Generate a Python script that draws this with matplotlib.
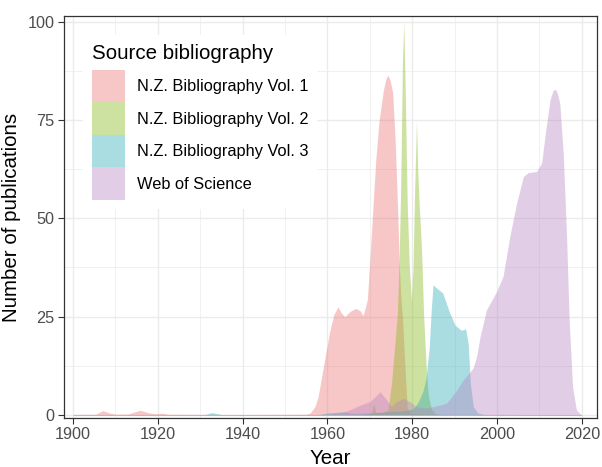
import matplotlib
matplotlib.use("Agg")
import matplotlib.pyplot as plt
from matplotlib.patches import Patch
from matplotlib.ticker import MultipleLocator

plt.rcParams['font.family'] = ['Liberation Sans', 'DejaVu Sans']

# densities (year, number of publications)
vol1_years = [1900, 1905.4, 1907, 1908.6, 1910.1, 1913, 1915.8, 1918, 1919.5, 1920.9, 1922.5,
              1940, 1955, 1955.9, 1957, 1957.8, 1959, 1960, 1960.5, 1961.5, 1962.5, 1963.2,
              1964.1, 1965.3, 1966.7, 1967.7, 1968.4, 1969.4, 1970.0, 1970.7, 1971.4, 1972.2,
              1973.2, 1973.8, 1974.3, 1974.8, 1975.4, 1976.0, 1976.55, 1976.9, 1977.3, 1977.7,
              1978.1, 1978.5, 1978.8, 1979.5, 1985, 2020]
vol1_counts = [0.15, 0.2, 1.1, 0.5, 0.2, 0.25, 1.2, 0.5, 0.3, 0.45, 0.2,
               0.15, 0.2, 0.5, 2.0, 4.6, 12, 18, 21, 25.5, 27.5, 26,
               25, 26.3, 27.1, 26.5, 25.2, 29.2, 39.4, 52.1, 64.8, 75,
               82.6, 85.5, 86.4, 85, 81.8, 69.1, 52.1, 39.4, 30, 24.9,
               16, 8, 2, 0.4, 0.15, 0.1]

vol2_years = [1900, 1969, 1970.4, 1970.9, 1971.4, 1973, 1974.3, 1975.1, 1975.9, 1976.5, 1976.9,
              1977.25, 1977.7, 1978.0, 1978.3, 1978.8, 1979.3, 1979.8, 1980.2, 1980.5, 1981.0,
              1981.3, 1981.6, 1982.2, 1982.7, 1983.3, 1983.8, 1984.5, 1985.5, 1987, 2020]
vol2_counts = [0.1, 0.1, 0.5, 3, 0.6, 0.6, 1.3, 8, 18, 26, 39.4,
               56.4, 90, 100, 85, 54.4, 38, 29, 38, 54.4, 74.7,
               62, 54.4, 41.8, 24.9, 12, 5, 1.5, 0.3, 0.1, 0.1]

vol3_years = [1900, 1931.1, 1932.7, 1935, 1958, 1960, 1963.5, 1966, 1970, 1974, 1978, 1980,
              1980.6, 1981.5, 1982.5, 1983.2, 1984, 1984.5, 1984.9, 1985.5, 1986.5, 1987.2,
              1988, 1988.9, 1990.1, 1991.6, 1992.6, 1993.2, 1993.7, 1994.4, 1995.5, 1997, 2020]
vol3_counts = [0.1, 0.1, 0.6, 0.1, 0.1, 0.5, 0.8, 0.4, 0.5, 0.8, 1.0, 1.5,
               2, 3.5, 6, 9, 17, 27, 33.1, 32.5, 31.6, 31,
               28.5, 25.8, 22.8, 21.5, 21.9, 18.1, 8, 2.1, 0.5, 0.1, 0.1]

wos_years = [1900, 1958, 1960, 1963, 1965.3, 1967.7, 1970, 1971.2, 1972.4, 1974, 1975.1, 1976.3,
             1977.9, 1979.4, 1981, 1983, 1985, 1986.5, 1988.1, 1990.5, 1992, 1993.3, 1994.4,
             1995.2, 1996.0, 1997.5, 1999.9, 2001.4, 2003.0, 2004.6, 2006.2, 2007.3, 2009.3,
             2010.5, 2011.5, 2012.5, 2013.2, 2013.8, 2014.3, 2014.8, 2015.6, 2016.4, 2017.0,
             2017.8, 2018.7, 2019.9]
wos_counts = [0.1, 0.1, 0.2, 0.5, 1.3, 2.5, 3.4, 4.6, 5.9, 3.8, 2.1, 3.4,
              4.2, 3.4, 2.1, 1.8, 2.1, 2.5, 3, 6.3, 8.9, 10.5, 12,
              15, 19.9, 26.7, 31.4, 35.2, 45.3, 53.8, 60.6, 61.6, 61.9,
              64, 72.5, 80.1, 82.5, 82.8, 81.5, 79.2, 66.5, 45.3, 24.2,
              7.2, 1.3, 0]

labels = ["N.Z. Bibliography Vol. 1", "N.Z. Bibliography Vol. 2",
          "N.Z. Bibliography Vol. 3", "Web of Science"]
colors = ["#EB7373", "#84B616", "#2AACB6", "#B684C0"]
series = [(vol1_years, vol1_counts), (vol2_years, vol2_counts),
          (vol3_years, vol3_counts), (wos_years, wos_counts)]

fig = plt.figure(figsize=(6.02, 4.67), dpi=100)
ax = fig.add_axes([0.1055, 0.1043, 0.8857, 0.8621])

for (xs, ys), col in zip(series, colors):
    ax.fill_between(xs, ys, 0, color=col, alpha=0.4, linewidth=0, zorder=2)

ax.set_xlim(1897.76, 2023.5)
ax.set_ylim(-0.85, 101.5)
ax.xaxis.set_major_locator(MultipleLocator(20))
ax.xaxis.set_minor_locator(MultipleLocator(10))
ax.yaxis.set_major_locator(MultipleLocator(25))
ax.yaxis.set_minor_locator(MultipleLocator(12.5))
ax.grid(True, which='major', color='#EBEBEB', linewidth=1.0, zorder=0)
ax.grid(True, which='minor', color='#EBEBEB', linewidth=0.5, zorder=0)
ax.set_axisbelow(True)
ax.tick_params(which='minor', length=0)
ax.tick_params(which='major', length=4, width=0.8, color='#333333',
               labelsize=11.7, labelcolor='#4D4D4D', pad=2.5)
for s in ax.spines.values():
    s.set_color('#333333')
    s.set_linewidth(0.9)

ax.set_xlabel("Year", fontsize=14.8, labelpad=5)
ax.set_ylabel("Number of publications", fontsize=14.8, labelpad=5)

handles = [Patch(facecolor=c, alpha=0.4, edgecolor='none') for c in colors]
leg = ax.legend(handles, labels, title="Source bibliography", loc='upper left',
                bbox_to_anchor=(0.0371, 0.952), borderaxespad=0, frameon=True,
                fancybox=False, edgecolor='none', facecolor='white', framealpha=1,
                fontsize=11.8, title_fontsize=14.8, handlelength=2.0,
                handleheight=2.674, labelspacing=0.0, handletextpad=0.7,
                borderpad=0.55, alignment='left')
leg._legend_box.sep = 5
leg.set_zorder(5)

fig.savefig("out.png", dpi=100)
